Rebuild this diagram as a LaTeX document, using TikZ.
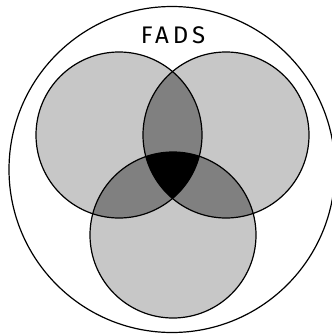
\documentclass[tikz,border=0pt]{standalone}
\usepackage{fontspec}
\newfontfamily\fadsfont[LetterSpace=16]{Fira Sans}
\begin{document}
\begin{tikzpicture}[x=1pt,y=-1pt,
  ring/.style={draw=black,line width=1.2pt},
  ]
\definecolor{setgray}{gray}{0.78}
\definecolor{pairgray}{gray}{0.5}
\useasboundingbox (0,0) rectangle (332,335);
\coordinate (U) at (172,169.5);
\coordinate (A) at (119,135);
\coordinate (B) at (226,135);
\coordinate (C) at (173,235);
\def\r{83}
% universe
\draw[ring] (U) circle (163);
% single fills
\fill[setgray] (A) circle (\r);
\fill[setgray] (B) circle (\r);
\fill[setgray] (C) circle (\r);
% pairwise
\begin{scope}
  \clip (A) circle (\r);
  \fill[pairgray] (B) circle (\r);
  \fill[pairgray] (C) circle (\r);
\end{scope}
\begin{scope}
  \clip (B) circle (\r);
  \fill[pairgray] (C) circle (\r);
\end{scope}
% triple
\begin{scope}
  \clip (A) circle (\r);
  \clip (B) circle (\r);
  \fill[black] (C) circle (\r);
\end{scope}
% outlines
\draw[ring] (A) circle (\r);
\draw[ring] (B) circle (\r);
\draw[ring] (C) circle (\r);
\node[font=\fadsfont\fontsize{24}{28}\selectfont, inner sep=0pt, anchor=base] (title) at (173,43) {FADS};
\end{tikzpicture}
\end{document}
